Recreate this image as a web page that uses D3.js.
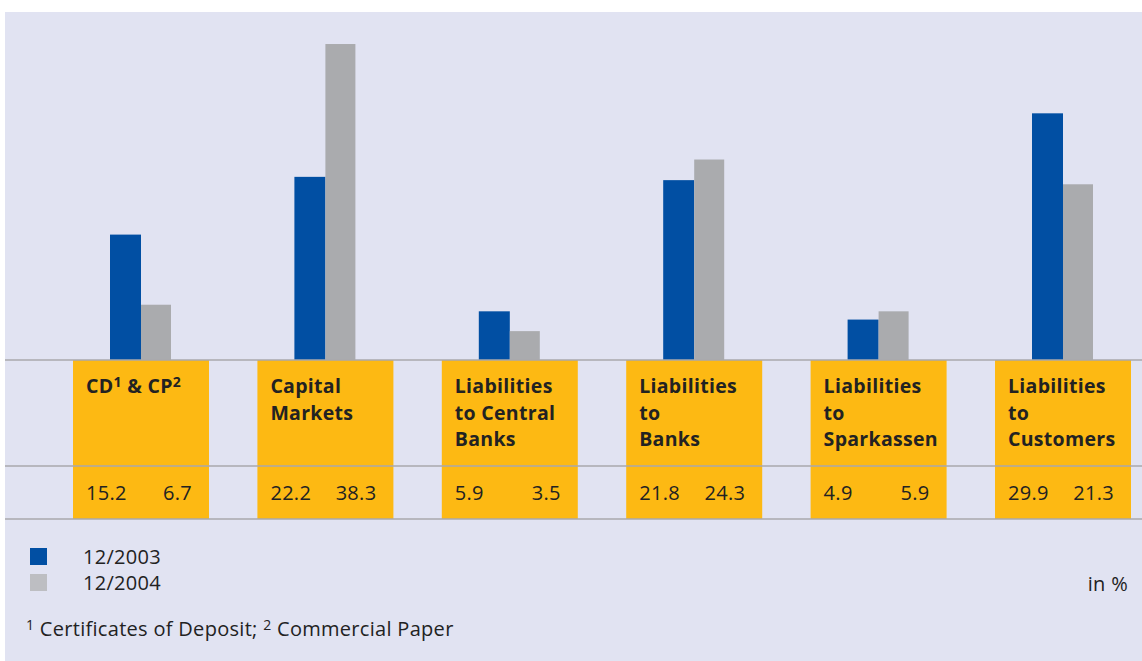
<!DOCTYPE html>
<html>
<head>
<meta charset="utf-8">
<script src="https://cdn.jsdelivr.net/npm/d3@7"></script>
<style>
  html, body { margin: 0; padding: 0; background: #fff; }
  svg { display: block; font-family: "Open Sans", "Noto Sans", sans-serif; }
</style>
</head>
<body>
<svg id="chart" width="1142" height="661"></svg>
<script>
// categories; label lines, "^n" marks a superscript
const categories = ["CD", "Capital", "Central", "Banks", "Sparkassen", "Customers"];
const labelLines = [
  ["CD^1 & CP^2"],
  ["Capital", "Markets"],
  ["Liabilities", "to Central", "Banks"],
  ["Liabilities", "to", "Banks"],
  ["Liabilities", "to", "Sparkassen"],
  ["Liabilities", "to", "Customers"]
];
const values2003 = [15.2, 22.2, 5.9, 21.8, 4.9, 29.9];
const values2004 = [6.7, 38.3, 3.5, 24.3, 5.9, 21.3];
const seriesNames = ["12/2003", "12/2004"];
const footnote = "^1 Certificates of Deposit; ^2 Commercial Paper";

const colors = { bg: "#e1e3f2", blue: "#014fa3", grey: "#aaabae", yellow: "#fdb913", line: "#a9a9ad", text: "#222" };

const svg = d3.select("#chart");

// writes text with ^n superscripts into a text selection
function richText(sel, str, supSize) {
  const parts = str.split(/(\^\d)/).filter(p => p.length);
  let raised = false;
  parts.forEach(p => {
    if (p[0] === "^") {
      sel.append("tspan").attr("dy", -6).attr("font-size", supSize).text(p.slice(1));
      raised = true;
    } else {
      sel.append("tspan").attr("dy", raised ? 6 : 0).text(p);
      raised = false;
    }
  });
}

// background panel
svg.append("rect")
  .attr("x", 5).attr("y", 12)
  .attr("width", 1137).attr("height", 649)
  .attr("fill", colors.bg);

const baseY = 360;
const x = d3.scaleBand()
  .domain(categories)
  .range([48.8, 1155.2])
  .paddingInner(0.2625)
  .paddingOuter(0.13125);

const y = d3.scaleLinear()
  .domain([0, 40])
  .range([baseY, baseY - 8.25 * 40]);

const barW = 31;

// yellow label boxes
svg.append("g")
  .selectAll("rect")
  .data(categories)
  .join("rect")
    .attr("x", d => x(d))
    .attr("y", baseY)
    .attr("width", x.bandwidth())
    .attr("height", 519 - baseY)
    .attr("fill", colors.yellow);

// bars
const bars = svg.append("g");
bars.selectAll("rect.b03")
  .data(categories)
  .join("rect")
    .attr("class", "b03")
    .attr("x", d => x(d) + x.bandwidth() / 2 - barW)
    .attr("y", (d, i) => y(values2003[i]))
    .attr("width", barW)
    .attr("height", (d, i) => baseY - y(values2003[i]))
    .attr("fill", colors.blue);
bars.selectAll("rect.b04")
  .data(categories)
  .join("rect")
    .attr("class", "b04")
    .attr("x", d => x(d) + x.bandwidth() / 2)
    .attr("y", (d, i) => y(values2004[i]))
    .attr("width", barW - 1)
    .attr("height", (d, i) => baseY - y(values2004[i]))
    .attr("fill", colors.grey);

// horizontal rules
[baseY, 466, 519].forEach(ly => {
  svg.append("line")
    .attr("x1", 5).attr("x2", 1142)
    .attr("y1", ly).attr("y2", ly)
    .attr("stroke", colors.line)
    .attr("stroke-width", 1.5);
});

// category labels
const labelG = svg.append("g")
  .attr("font-size", 19.5)
  .attr("font-weight", 700)
  .attr("letter-spacing", 0.3)
  .attr("fill", colors.text);
categories.forEach((c, i) => {
  labelLines[i].forEach((line, j) => {
    const t = labelG.append("text")
      .attr("x", x(c) + 13)
      .attr("y", 393 + j * 26.5);
    richText(t, line, 14);
  });
});

// value row
const valRow = svg.append("g")
  .attr("font-size", 20)
  .attr("letter-spacing", 0.3)
  .attr("fill", colors.text);
valRow.selectAll("text.v03")
  .data(categories)
  .join("text")
    .attr("class", "v03")
    .attr("x", d => x(d) + 13)
    .attr("y", 500)
    .text((d, i) => values2003[i].toFixed(1));
valRow.selectAll("text.v04")
  .data(categories)
  .join("text")
    .attr("class", "v04")
    .attr("x", d => x(d) + x.bandwidth() - 17)
    .attr("y", 500)
    .attr("text-anchor", "end")
    .text((d, i) => values2004[i].toFixed(1));

// legend
const legend = svg.append("g")
  .selectAll("g")
  .data(seriesNames)
  .join("g")
    .attr("transform", (d, i) => `translate(30,${548 + i * 26})`);
legend.append("rect")
  .attr("width", 17).attr("height", 17)
  .attr("fill", (d, i) => i === 0 ? colors.blue : "#bdbec2");
legend.append("text")
  .attr("x", 53).attr("y", 16)
  .attr("font-size", 20)
  .attr("letter-spacing", 0.3)
  .attr("fill", colors.text)
  .text(d => d);

svg.append("text")
  .attr("x", 1128).attr("y", 591)
  .attr("text-anchor", "end")
  .attr("font-size", 20)
  .attr("letter-spacing", 0.3)
  .attr("fill", colors.text)
  .text("in %");

// footnote
const fn = svg.append("text")
  .attr("x", 26).attr("y", 636)
  .attr("font-size", 20)
  .attr("letter-spacing", 0.3)
  .attr("fill", colors.text);
richText(fn, footnote, 14);
</script>
</body>
</html>
